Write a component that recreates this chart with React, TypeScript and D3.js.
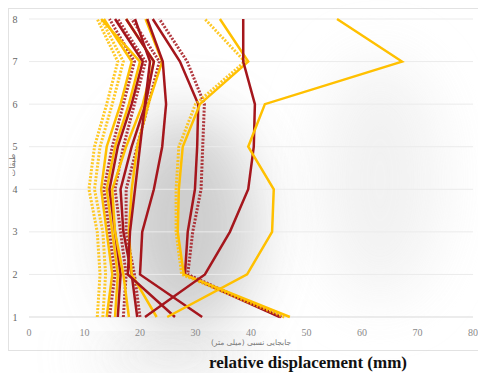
import React from "react";
import * as d3 from "d3";

const floors = [1, 2, 3, 4, 5, 6, 7, 8];
const xTicks = [0, 10, 20, 30, 40, 50, 60, 70, 80];

// each series: values at floors 1..8 (mm)
const seriesNames = [
  "Y-dot-A", "Y-dot-B", "Y-C", "R-dot-D", "Y-E", "R-F", "R-dot-G", "Y-H",
  "R-I", "R-dot-J", "Y-K", "R-L", "R-3", "R-2", "R-dot-2", "Y-dot-2", "Y-2", "R-1", "Y-1",
];
const seriesColors = [
  "yellow", "yellow", "yellow", "red", "yellow", "red", "red", "yellow",
  "red", "red", "yellow", "red", "red", "red", "red", "yellow", "yellow", "red", "yellow",
];
const seriesDotted = [
  true, true, false, true, false, false, true, false,
  false, true, false, false, false, false, true, true, false, false, false,
];
const seriesValues: number[][] = [
  [12.3, 12.8, 12.3, 10.8, 11.8, 14, 16, 12.3],
  [13.3, 13.8, 13.3, 11.8, 12.8, 15, 17, 13],
  [14, 15, 14, 13, 14, 16.5, 18.5, 13.5],
  [14.5, 15.5, 14.5, 13.5, 15, 17, 19, 14.5],
  [15.5, 16, 15, 14, 15.5, 18, 20, 13],
  [16, 16.5, 15.5, 14.5, 16, 18.5, 20.5, 15.5],
  [17, 17.5, 16.5, 15.5, 17, 19, 21, 16],
  [18, 17, 15.5, 15, 17.5, 20.5, 22.5, 17.5],
  [19.5, 18.5, 17, 16.5, 18.5, 21, 22.5, 17.5],
  [20, 19, 17.5, 17.5, 19.5, 21.5, 23.5, 18.5],
  [23, 18.5, 18, 18.5, 19.5, 21.5, 24, 21],
  [26.3, 17.8, 18.2, 19.1, 20, 20.9, 21.8, 19.1],
  [31.2, 20, 20.4, 22.5, 24, 24.7, 24.1, 21.3],
  [45.2, 28.1, 28.6, 29.9, 30.3, 30.5, 27.2, 22.3],
  [45.5, 28.6, 29.5, 31, 31.3, 31.6, 28.5, 23.5],
  [46, 27.5, 26.5, 26.5, 27, 30, 38.9, 31.7],
  [47, 27.9, 26.8, 27, 27.7, 30.8, 39.5, 34.4],
  [20.9, 31.7, 36.2, 39.5, 40.5, 40.7, 38.6, 38.6],
  [24.9, 39.3, 43.8, 44.1, 39.5, 42.5, 67.2, 55.5],
];

const RED = "#A5161D";
const YELLOW = "#FFC000";

export default function App() {
  const W = 478, H = 373;
  const x = d3.scaleLinear().domain([0, 80]).range([29, 473]);
  const y = d3.scaleLinear().domain([1, 8]).range([317, 19]);
  const line = d3.line<number>().x((d) => x(d)).y((_, i) => y(floors[i]));

  return (
    <svg width={W} height={H} style={{ position: "absolute", left: 0, top: 0 }}>
      <defs>
        <filter id="blur" x="-50%" y="-50%" width="200%" height="200%">
          <feGaussianBlur stdDeviation="30" />
        </filter>
        <filter id="soft" x="-10%" y="-10%" width="120%" height="120%">
          <feGaussianBlur stdDeviation="0.6" />
        </filter>
      </defs>
      <rect x={0} y={0} width={W} height={H} fill="#ffffff" />
      <rect x={8.5} y={8.5} width={475} height={342} fill="#ffffff" stroke="#e2e2e2" />
      <ellipse cx={185} cy={225} rx={70} ry={110} fill="#c8c8c8" filter="url(#blur)" opacity={0.9} />
      <ellipse cx={170} cy={355} rx={85} ry={12} fill="#cfcfcf" filter="url(#blur)" opacity={0.8} />
      <ellipse cx={380} cy={180} rx={60} ry={120} fill="#eeeeee" filter="url(#blur)" opacity={0.8} />
      {floors.map((f) => (
        <line key={f} x1={x(0)} x2={x(80)} y1={y(f)} y2={y(f)} stroke={f === 1 ? "#d9d9d9" : "#ebebeb"} strokeWidth={1} />
      ))}
      {floors.map((f) => (
        <text key={"yl" + f} x={15} y={y(f)} dy="0.35em" textAnchor="middle" fontFamily="Liberation Serif" fontSize={10} fill="#666">
          {f}
        </text>
      ))}
      {xTicks.map((t) => (
        <text key={"xl" + t} x={x(t)} y={332} dy="0.35em" textAnchor="middle" fontFamily="Liberation Serif" fontSize={10} fill="#8a8a8a">
          {t}
        </text>
      ))}
      <g filter="url(#soft)">
        {seriesValues.map((vals, i) => (
          <path
            key={seriesNames[i]}
            d={line(vals) || ""}
            fill="none"
            stroke={seriesColors[i] === "red" ? RED : YELLOW}
            strokeWidth={seriesDotted[i] ? 3 : 2.5}
            strokeDasharray={seriesDotted[i] ? "2 1.5" : undefined}
            strokeLinejoin="miter"
            opacity={seriesDotted[i] ? 0.85 : 1}
          />
        ))}
      </g>
      <text x={251} y={345} textAnchor="middle" fontFamily="DejaVu Sans" fontSize={7.5} fill="#777" direction="rtl">
        جابجایی نسبی (میلی متر)
      </text>
      <text transform={`translate(15,165) rotate(-90)`} textAnchor="middle" fontFamily="DejaVu Sans" fontSize={8} fill="#777">
        طبقات
      </text>
      <text x={308} y={368} textAnchor="middle" fontFamily="Liberation Serif" fontWeight="bold" fontSize={17} fill="#111">
        relative displacement (mm)
      </text>
    </svg>
  );
}
